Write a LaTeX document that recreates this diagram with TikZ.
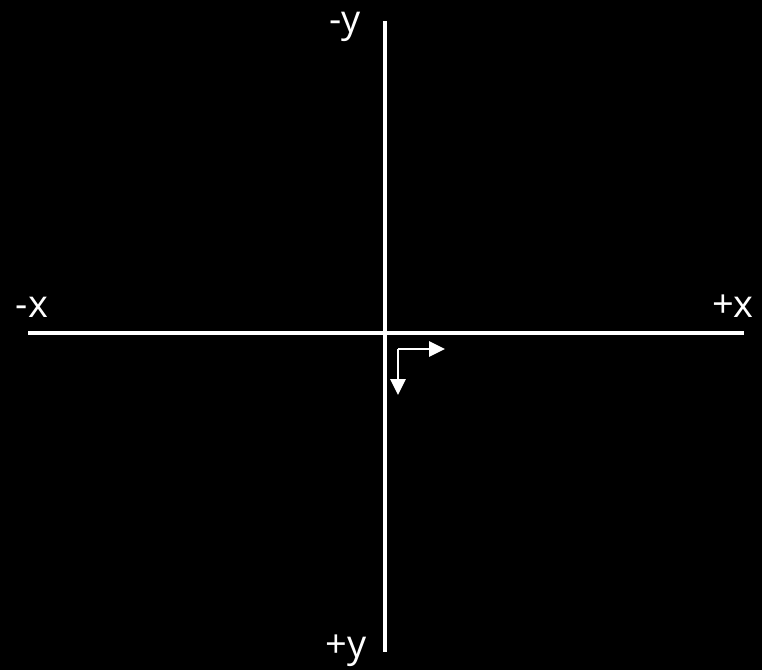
\documentclass[tikz,border=0pt]{standalone}
\usepackage{fontspec}
\setmainfont{Open Sans}
\usetikzlibrary{arrows.meta}
\begin{document}
\begin{tikzpicture}[x=1pt,y=-1pt,
  axis/.style={white,line width=3.5pt},
  dirarrow/.style={white,line width=2.8pt,-{Triangle[width=15pt,length=16pt]}},
  lbl/.style={text=white,font=\fontsize{38}{40}\selectfont,inner sep=0pt}]
\fill[black] (0,0) rectangle (762,670);
\useasboundingbox (0,0) rectangle (762,670);
\coordinate (xl) at (28,333);
\coordinate (xr) at (744,333);
\coordinate (yt) at (385,21);
\coordinate (yb) at (385,652);
\draw[axis] (xl) -- (xr);
\draw[axis] (yt) -- (yb);
\coordinate (c) at (398,349);
\coordinate (ax) at (445,349);
\coordinate (ay) at (398,395);
\draw[dirarrow] (c) -- (ax);
\draw[dirarrow] (c) -- (ay);
\node[lbl] (mx) at (32,307) {-x};
\node[lbl] (px) at (733,306) {+x};
\node[lbl] (my) at (345,27) {-y};
\node[lbl] (py) at (346,651) {+y};
\end{tikzpicture}
\end{document}
